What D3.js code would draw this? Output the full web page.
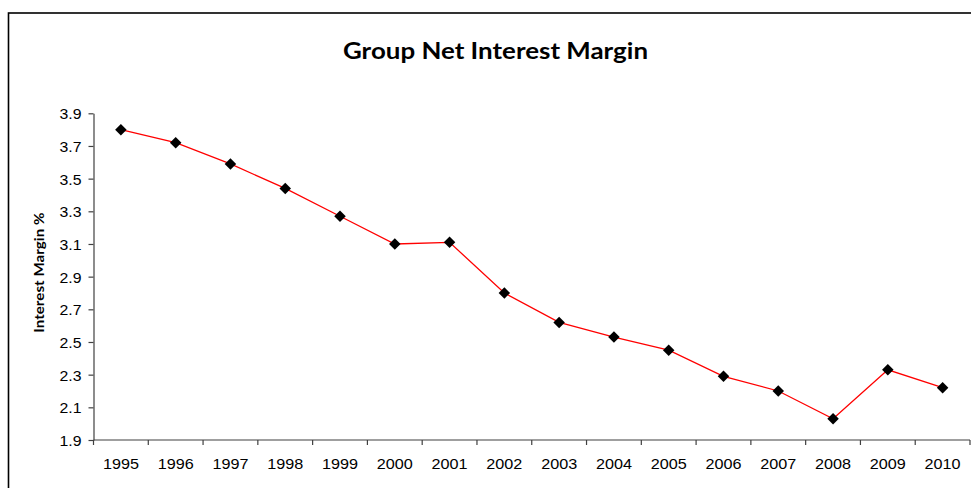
<!DOCTYPE html>
<html>
<head>
<meta charset="utf-8">
<script src="https://cdn.jsdelivr.net/npm/d3@7"></script>
<style>
  html, body { margin: 0; padding: 0; background: #fff; }
  svg { display: block; }
</style>
</head>
<body>
<svg id="chart" width="971" height="488"></svg>
<script>
const years = ["1995","1996","1997","1998","1999","2000","2001","2002","2003","2004","2005","2006","2007","2008","2009","2010"];
const margin = [3.80, 3.72, 3.59, 3.44, 3.27, 3.10, 3.11, 2.80, 2.62, 2.53, 2.45, 2.29, 2.20, 2.03, 2.33, 2.22];
const yTicks = [1.9, 2.1, 2.3, 2.5, 2.7, 2.9, 3.1, 3.3, 3.5, 3.7, 3.9];
const titleText = "Group Net Interest Margin";
const yTitle = "Interest Margin %";

const svg = d3.select("#chart");

// outer frame
svg.append("rect")
  .attr("x", 8.5).attr("y", 13)
  .attr("width", 1000).attr("height", 500)
  .attr("fill", "#fff").attr("stroke", "#000").attr("stroke-width", 1.6);

const pLeft = 93.5, pRight = 970, pTop = 113.3, pBottom = 440;

const x = d3.scaleBand().domain(years).range([pLeft, pRight]).padding(0);
const y = d3.scaleLinear().domain([1.9, 3.9]).range([pBottom, pTop]);

// title
svg.append("text")
  .attr("x", (343 + 648) / 2).attr("y", 59)
  .attr("text-anchor", "middle")
  .attr("font-family", "Lato, 'Open Sans', sans-serif")
  .attr("font-weight", "bold")
  .attr("font-size", 23)
  .attr("textLength", 305).attr("lengthAdjust", "spacingAndGlyphs")
  .attr("fill", "#000")
  .text(titleText);

// y axis title
svg.append("text")
  .attr("transform", `translate(44, ${(pTop + pBottom) / 2 - 4}) rotate(-90)`)
  .attr("text-anchor", "middle")
  .attr("font-family", "Lato, 'Open Sans', sans-serif")
  .attr("font-weight", "bold")
  .attr("font-size", 12.5)
  .attr("textLength", 120).attr("lengthAdjust", "spacingAndGlyphs")
  .attr("fill", "#000")
  .text(yTitle);

// y axis
const yAxis = svg.append("g")
  .attr("transform", `translate(${pLeft},0)`)
  .call(d3.axisLeft(y).tickValues(yTicks).tickSize(5).tickSizeOuter(0).tickPadding(7)
    .tickFormat(d3.format(".1f")));
yAxis.attr("font-family", null).attr("font-size", null);
yAxis.select(".domain").attr("stroke", "#404040").attr("stroke-width", 1.2);
yAxis.selectAll(".tick line").attr("stroke", "#404040").attr("stroke-width", 1.2);
yAxis.selectAll(".tick text")
  .style("font-family", "'Liberation Sans', Arial, sans-serif")
  .style("font-size", "14px")
  .attr("fill", "#000")
  .attr("textLength", 22).attr("lengthAdjust", "spacingAndGlyphs")
  .attr("dy", "0.4em");

// x axis (labels at band centers)
const xAxis = svg.append("g")
  .attr("transform", `translate(0,${pBottom})`)
  .call(d3.axisBottom(x).tickSize(0).tickSizeOuter(0).tickPadding(19));
xAxis.attr("font-family", null).attr("font-size", null);
xAxis.select(".domain").attr("stroke", "#404040").attr("stroke-width", 1.2)
  .attr("d", `M${pLeft},0H${pRight}`);
xAxis.selectAll(".tick text")
  .style("font-family", "'Liberation Sans', Arial, sans-serif")
  .style("font-size", "14.5px")
  .attr("fill", "#000")
  .attr("textLength", 36).attr("lengthAdjust", "spacingAndGlyphs");

// x tick marks at band boundaries
const bounds = years.map(d => x(d)).concat([x(years[years.length - 1]) + x.bandwidth()]);
xAxis.selectAll("line.bt").data(bounds).enter().append("line")
  .attr("class", "bt")
  .attr("x1", d => d).attr("x2", d => d)
  .attr("y1", 0).attr("y2", 5)
  .attr("stroke", "#404040").attr("stroke-width", 1.2);

// line
const line = d3.line()
  .x((d, i) => x(years[i]) + x.bandwidth() / 2)
  .y(d => y(d));
svg.append("path")
  .datum(margin)
  .attr("d", line)
  .attr("fill", "none")
  .attr("stroke", "#ff0000")
  .attr("stroke-width", 1.3);

// diamond markers
const diamond = d3.symbol().type(d3.symbolSquare).size(66);
svg.selectAll("path.mk").data(margin).enter().append("path")
  .attr("class", "mk")
  .attr("d", diamond)
  .attr("transform", (d, i) => `translate(${x(years[i]) + x.bandwidth() / 2},${y(d)}) rotate(45)`)
  .attr("fill", "#000");
</script>
</body>
</html>
